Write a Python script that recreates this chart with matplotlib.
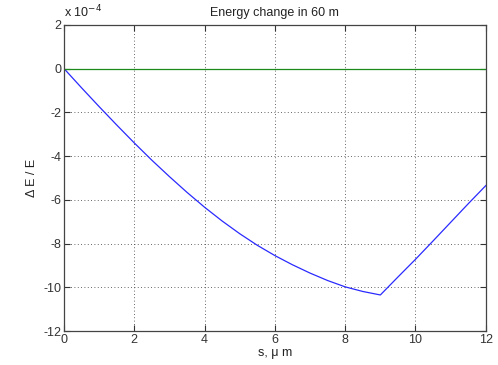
import matplotlib
matplotlib.use("Agg")
import matplotlib.pyplot as plt

# energy change along s (units of 1e-4)
s_um = [0, 0.5, 1, 1.5, 2, 2.5, 3, 3.5, 4, 4.5, 5, 5.5, 6, 6.5, 7, 7.5, 8, 8.5,
        9, 9.5, 10, 10.5, 11, 11.5, 12]
dE_E = [0, -0.88, -1.74, -2.58, -3.4, -4.19, -4.94, -5.66, -6.34, -6.97, -7.55,
        -8.08, -8.55, -8.97, -9.35, -9.69, -9.98, -10.19, -10.35, -9.53, -8.72,
        -7.88, -7.03, -6.18, -5.35]
ref_s = [0, 12]
ref_val = [0, 0]

xticks = [0, 2, 4, 6, 8, 10, 12]
yticks = [2, 0, -2, -4, -6, -8, -10, -12]

plt.rcParams["font.family"] = ["Liberation Sans", "DejaVu Sans"]

fig = plt.figure(figsize=(4.98, 3.65), dpi=100)
ax = fig.add_axes([0.1285, 0.093, 0.847, 0.839])

ax.plot(s_um, dE_E, color="#2a2aff", linewidth=0.9)
ax.plot(ref_s, ref_val, color="#1a8a1a", linewidth=0.9)

ax.set_xlim(0, 12)
ax.set_ylim(-12, 2)
ax.set_xticks(xticks)
ax.set_yticks(yticks)
ax.set_yticklabels([str(v) for v in yticks])
ax.tick_params(direction="in", length=4, width=0.8, labelsize=9,
               top=True, right=True, colors="#333333", pad=2)
for sp in ax.spines.values():
    sp.set_color("#444444")
    sp.set_linewidth(0.9)
ax.grid(True, linestyle=(0, (1, 3)), color="#333333", linewidth=0.6)

ax.set_title("Energy change in 60 m", fontsize=9, color="#222222", pad=6)
ax.set_xlabel("s, \u03bc m", fontsize=9, color="#222222", labelpad=1)
ax.set_ylabel("\u0394 E / E", fontsize=9, color="#222222", labelpad=4)
ax.text(0.0, 1.015, "x 10$^{-4}$", transform=ax.transAxes, fontsize=9,
        color="#222222", ha="left", va="bottom")

fig.savefig("out.png", dpi=100)
